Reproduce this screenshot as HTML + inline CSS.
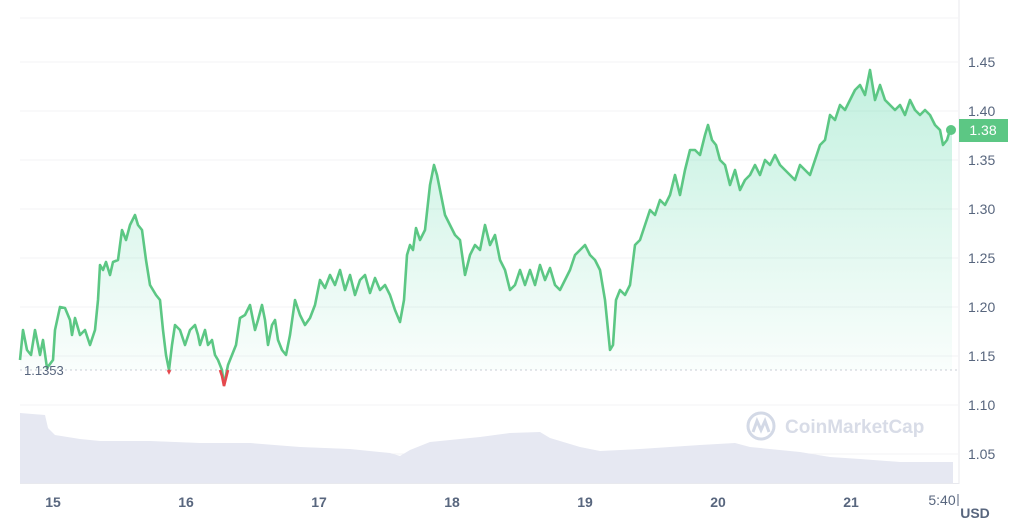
<!DOCTYPE html>
<html><head><meta charset="utf-8"><style>
html,body{margin:0;padding:0;background:#fff;}
svg{display:block;font-family:"Liberation Sans",Arial,sans-serif;}
</style></head><body>
<svg width="1024" height="532" viewBox="0 0 1024 532" xmlns="http://www.w3.org/2000/svg">
<defs>
<linearGradient id="g" gradientUnits="userSpaceOnUse" x1="0" y1="70" x2="0" y2="375">
<stop offset="0" stop-color="#16c784" stop-opacity="0.26"/>
<stop offset="1" stop-color="#16c784" stop-opacity="0.02"/>
</linearGradient>
</defs>
<g stroke="#f3f3f5" stroke-width="1">
<line x1="20" y1="62" x2="958" y2="62"/><line x1="20" y1="111" x2="958" y2="111"/>
<line x1="20" y1="160" x2="958" y2="160"/><line x1="20" y1="209" x2="958" y2="209"/>
<line x1="20" y1="258" x2="958" y2="258"/><line x1="20" y1="307" x2="958" y2="307"/>
<line x1="20" y1="356" x2="958" y2="356"/><line x1="20" y1="405" x2="958" y2="405"/>
<line x1="20" y1="454" x2="958" y2="454"/><line x1="20" y1="18" x2="958" y2="18"/>
</g>
<line x1="959" y1="0" x2="959" y2="484" stroke="#e8e9ee"/>
<line x1="20" y1="483.5" x2="959" y2="483.5" stroke="#e8e9ee"/>
<path d="M20,413 L45,415 L48,428 L55,435 L80,439 L100,441 L150,441 L200,443 L250,443 L300,447 L350,449 L390,453 L400,456 L410,450 L430,442 L480,437 L510,433 L540,432 L550,438 L580,447 L600,451 L640,449 L700,445 L735,443 L750,447 L800,452 L830,457 L860,459 L900,462 L953,462 L953,483 L20,483 Z" fill="#e6e8f2"/>
<line x1="20" y1="370" x2="958" y2="370" stroke="#c9ccd6" stroke-dasharray="2,3"/>
<path id="p" d="M20,360 L23,330 L27,350 L31,355 L35,330 L40,355 L43,340 L47,368 L53,360 L55,330 L60,307 L65,308 L70,320 L72,335 L75,318 L80,335 L85,330 L90,345 L95,330 L98,300 L100,265 L103,270 L106,262 L110,275 L113,262 L118,260 L122,230 L126,240 L130,225 L135,215 L138,225 L142,230 L146,260 L150,285 L153,290 L156,295 L160,300 L163,330 L166,355 L169,370 L172,345 L175,325 L180,330 L185,345 L190,330 L195,325 L198,335 L200,345 L205,330 L208,345 L212,340 L215,355 L218,360 L222,370 L224,385 L228,365 L232,355 L236,345 L240,318 L245,315 L250,305 L255,330 L258,320 L262,305 L265,320 L268,345 L272,325 L275,320 L278,340 L282,350 L286,355 L290,335 L295,300 L300,315 L305,325 L310,318 L315,305 L320,280 L325,288 L330,275 L335,285 L340,270 L345,290 L350,275 L355,295 L360,280 L365,275 L370,293 L375,278 L380,290 L385,285 L390,295 L395,310 L400,322 L404,300 L407,255 L410,245 L413,250 L416,228 L420,240 L425,230 L430,185 L434,165 L437,175 L440,190 L445,215 L450,225 L455,235 L460,240 L465,275 L470,255 L475,245 L480,250 L485,225 L490,245 L495,235 L500,260 L505,270 L510,290 L515,285 L520,270 L525,285 L530,270 L535,285 L540,265 L545,280 L550,268 L555,285 L560,290 L565,280 L570,270 L575,255 L580,250 L585,245 L590,255 L595,260 L600,270 L605,300 L610,350 L613,345 L616,300 L620,290 L625,295 L630,285 L635,245 L640,240 L645,225 L650,210 L655,215 L660,200 L665,205 L670,195 L675,175 L680,195 L685,170 L690,150 L695,150 L700,155 L705,135 L708,125 L712,140 L716,145 L720,160 L725,165 L730,185 L735,170 L740,190 L745,180 L750,175 L755,165 L760,175 L765,160 L770,165 L775,155 L780,165 L785,170 L790,175 L795,180 L800,165 L805,170 L810,175 L815,160 L820,145 L825,140 L830,115 L835,120 L840,105 L845,110 L850,100 L855,90 L860,85 L865,95 L870,70 L875,100 L880,85 L885,100 L890,105 L895,110 L900,105 L905,115 L910,100 L915,110 L920,115 L925,110 L930,115 L935,125 L940,130 L943,145 L947,140 L950,130" fill="none"/>
<path d="M20,360 L23,330 L27,350 L31,355 L35,330 L40,355 L43,340 L47,368 L53,360 L55,330 L60,307 L65,308 L70,320 L72,335 L75,318 L80,335 L85,330 L90,345 L95,330 L98,300 L100,265 L103,270 L106,262 L110,275 L113,262 L118,260 L122,230 L126,240 L130,225 L135,215 L138,225 L142,230 L146,260 L150,285 L153,290 L156,295 L160,300 L163,330 L166,355 L169,370 L172,345 L175,325 L180,330 L185,345 L190,330 L195,325 L198,335 L200,345 L205,330 L208,345 L212,340 L215,355 L218,360 L222,370 L224,385 L228,365 L232,355 L236,345 L240,318 L245,315 L250,305 L255,330 L258,320 L262,305 L265,320 L268,345 L272,325 L275,320 L278,340 L282,350 L286,355 L290,335 L295,300 L300,315 L305,325 L310,318 L315,305 L320,280 L325,288 L330,275 L335,285 L340,270 L345,290 L350,275 L355,295 L360,280 L365,275 L370,293 L375,278 L380,290 L385,285 L390,295 L395,310 L400,322 L404,300 L407,255 L410,245 L413,250 L416,228 L420,240 L425,230 L430,185 L434,165 L437,175 L440,190 L445,215 L450,225 L455,235 L460,240 L465,275 L470,255 L475,245 L480,250 L485,225 L490,245 L495,235 L500,260 L505,270 L510,290 L515,285 L520,270 L525,285 L530,270 L535,285 L540,265 L545,280 L550,268 L555,285 L560,290 L565,280 L570,270 L575,255 L580,250 L585,245 L590,255 L595,260 L600,270 L605,300 L610,350 L613,345 L616,300 L620,290 L625,295 L630,285 L635,245 L640,240 L645,225 L650,210 L655,215 L660,200 L665,205 L670,195 L675,175 L680,195 L685,170 L690,150 L695,150 L700,155 L705,135 L708,125 L712,140 L716,145 L720,160 L725,165 L730,185 L735,170 L740,190 L745,180 L750,175 L755,165 L760,175 L765,160 L770,165 L775,155 L780,165 L785,170 L790,175 L795,180 L800,165 L805,170 L810,175 L815,160 L820,145 L825,140 L830,115 L835,120 L840,105 L845,110 L850,100 L855,90 L860,85 L865,95 L870,70 L875,100 L880,85 L885,100 L890,105 L895,110 L900,105 L905,115 L910,100 L915,110 L920,115 L925,110 L930,115 L935,125 L940,130 L943,145 L947,140 L950,130 L952,130 L952,370 L20,370 Z" fill="url(#g)"/>
<use href="#p" stroke="#5cc784" stroke-width="2.6" stroke-linejoin="round"/>
<path d="M220,370 L222,376 L224,386 L226,378 L228,370" fill="none" stroke="#e5484d" stroke-width="2.6"/>
<path d="M168,370 L169,372 L170,370" fill="none" stroke="#e5484d" stroke-width="2.6"/>
<circle cx="951" cy="130" r="5" fill="#5cc784"/>
<rect x="959" y="119" width="49" height="23" fill="#5cc784"/>
<text x="983" y="135" font-size="14" fill="#fff" text-anchor="middle">1.38</text>
<text x="24" y="375" font-size="13" fill="#58667e">1.1353</text>
<g font-size="14" fill="#58667e">
<text x="968" y="67">1.45</text><text x="968" y="116">1.40</text><text x="968" y="165">1.35</text>
<text x="968" y="214">1.30</text><text x="968" y="263">1.25</text><text x="968" y="312">1.20</text>
<text x="968" y="361">1.15</text><text x="968" y="410">1.10</text><text x="968" y="459">1.05</text>
</g>
<g font-size="14" font-weight="bold" fill="#58667e" text-anchor="middle">
<text x="53" y="507">15</text><text x="186" y="507">16</text><text x="319" y="507">17</text>
<text x="452" y="507">18</text><text x="585" y="507">19</text><text x="718" y="507">20</text><text x="851" y="507">21</text>
</g>
<text x="942" y="505" font-size="14" fill="#58667e" text-anchor="middle">5:40</text>
<line x1="958" y1="494" x2="958" y2="506" stroke="#58667e"/>
<text x="975" y="518" font-size="14" font-weight="bold" fill="#58667e" text-anchor="middle">USD</text>
<g>
<circle cx="761" cy="426" r="13" fill="none" stroke="#d3d9e6" stroke-width="3"/>
<path d="M753,432 L757,421 L761,430 L765,421 L769,432" fill="none" stroke="#d3d9e6" stroke-width="3"/>
<text x="785" y="433" font-size="19" font-weight="bold" fill="#d8dce7">CoinMarketCap</text>
</g>
</svg>
</body></html>
